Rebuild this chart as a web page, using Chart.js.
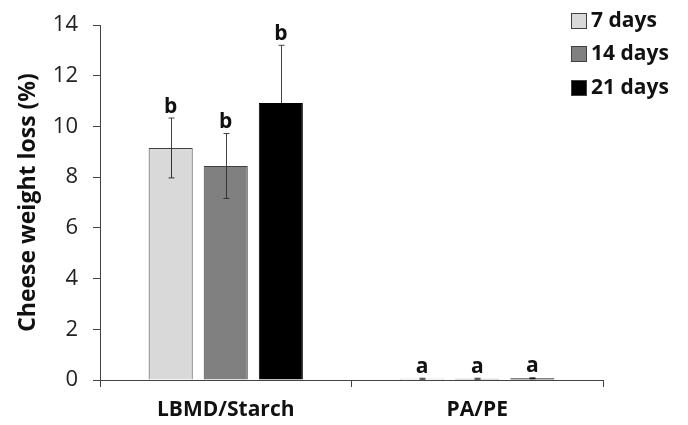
<!DOCTYPE html>
<html>
<head>
<meta charset="utf-8">
<script src="https://cdn.jsdelivr.net/npm/chart.js@4"></script>
<style>
  html, body { margin: 0; padding: 0; background: #fff; }
  #wrap { width: 688px; height: 425px; }
</style>
</head>
<body>
<div id="wrap"><canvas id="chart" width="688" height="425"></canvas></div>
<script>
const categories = ["LBMD/Starch", "PA/PE"];
const seriesLabels = ["7 days", "14 days", "21 days"];
const days7 = [9.15, 0.05];
const days14 = [8.44, 0.05];
const days21 = [10.92, 0.07];
const err7 = [1.18, 0.02];
const err14 = [1.28, 0.02];
const err21 = [2.28, 0.02];
const letters7 = ["b", "a"];
const letters14 = ["b", "a"];
const letters21 = ["b", "a"];

const FONT = "'Open Sans', 'Liberation Sans', sans-serif";

const errorBars = {
    id: "errorBars",
    afterDatasetsDraw(chart) {
        const ctx = chart.ctx;
        const y = chart.scales.y;
        chart.data.datasets.forEach((ds, di) => {
            const meta = chart.getDatasetMeta(di);
            meta.data.forEach((bar, i) => {
                const v = ds.data[i], e = ds.errors[i];
                const top = y.getPixelForValue(v + e);
                const mid = y.getPixelForValue(v);
                const bot = y.getPixelForValue(v - e);
                const x = Math.round(bar.x) + 0.5;
                ctx.save();
                ctx.lineWidth = 1;
                ctx.strokeStyle = "#444";
                ctx.beginPath();
                ctx.moveTo(x, top); ctx.lineTo(x, mid);
                ctx.moveTo(x - 3, top); ctx.lineTo(x + 3, top);
                ctx.stroke();
                ctx.strokeStyle = ds.errorLowColor;
                ctx.beginPath();
                ctx.moveTo(x, mid); ctx.lineTo(x, bot);
                ctx.moveTo(x - 3, bot); ctx.lineTo(x + 3, bot);
                ctx.stroke();
                ctx.fillStyle = "#111";
                ctx.font = "bold 21px " + FONT;
                ctx.textAlign = "center";
                ctx.textBaseline = "bottom";
                ctx.fillText(ds.letters[i], bar.x, top - 1);
                ctx.restore();
            });
        });
    }
};

const sideLegend = {
    id: "sideLegend",
    afterDraw(chart) {
        const ctx = chart.ctx;
        ctx.save();
        chart.data.datasets.forEach((ds, i) => {
            const yy = [21, 54, 88][i];
            ctx.fillStyle = ds.backgroundColor;
            ctx.strokeStyle = "#404040";
            ctx.lineWidth = 1;
            ctx.fillRect(571, yy - 8, 16, 16);
            ctx.strokeRect(571.5, yy - 7.5, 15, 15);
            ctx.fillStyle = "#111";
            ctx.font = "bold 21px " + FONT;
            ctx.textAlign = "left";
            ctx.textBaseline = "middle";
            ctx.fillText(ds.label, 591, yy);
        });
        ctx.restore();
    }
};

new Chart(document.getElementById("chart"), {
    type: "bar",
    data: {
        labels: categories,
        datasets: [
            { label: seriesLabels[0], data: days7, errors: err7, letters: letters7, errorLowColor: "#333",
              backgroundColor: "#d9d9d9", borderColor: "#404040", borderWidth: 1 },
            { label: seriesLabels[1], data: days14, errors: err14, letters: letters14, errorLowColor: "#333",
              backgroundColor: "#808080", borderColor: "#404040", borderWidth: 1 },
            { label: seriesLabels[2], data: days21, errors: err21, letters: letters21, errorLowColor: "#000",
              backgroundColor: "#000000", borderColor: "#000000", borderWidth: 1 }
        ]
    },
    options: {
        responsive: false,
        animation: false,
        layout: { padding: { left: 0, top: 25, right: 85, bottom: 0 } },
        datasets: { bar: { categoryPercentage: 0.657, barPercentage: 0.8 } },
        plugins: { legend: { display: false }, tooltip: { enabled: false } },
        scales: {
            x: {
                grid: { display: true, drawOnChartArea: false, drawTicks: true, tickLength: 7, color: "#444", offset: true },
                border: { display: true, color: "#444", width: 1 },
                ticks: { color: "#111", font: { family: FONT, size: 21, weight: "bold" }, padding: 10 },
                afterFit(s) { s.height = 45; s.paddingLeft = 0; s.paddingRight = 0; }
            },
            y: {
                min: 0, max: 14,
                grid: { display: true, drawOnChartArea: false, drawTicks: true, tickLength: 7, color: "#444" },
                border: { display: true, color: "#444", width: 1 },
                ticks: { stepSize: 2, color: "#222", font: { family: FONT, size: 22 }, padding: 15 },
                title: { display: true, text: "Cheese weight loss (%)", color: "#111",
                         font: { family: FONT, size: 23, weight: "bold" }, padding: { top: 15, bottom: 0 } },
                afterFit(s) { s.width = 100; s.paddingTop = 0; s.paddingBottom = 0; }
            }
        }
    },
    plugins: [errorBars, sideLegend]
});
</script>
</body>
</html>
